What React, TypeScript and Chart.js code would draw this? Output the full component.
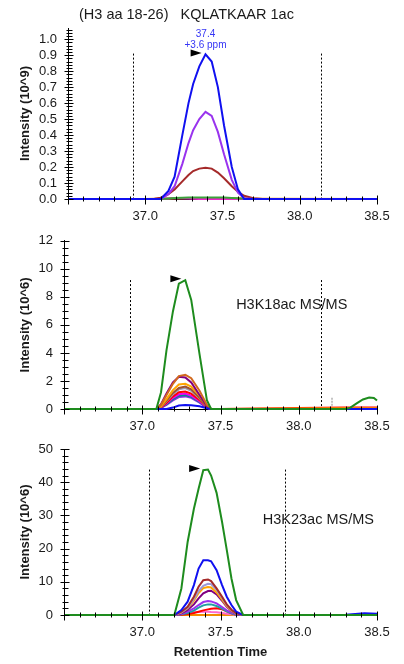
import React, { useEffect, useRef } from 'react';
import { Chart, registerables } from 'chart.js';
Chart.register(...registerables);

const FONT = '"Liberation Sans", Arial, sans-serif';

// ---------- shared x axis ----------
const xTickValues = [37.0, 37.5, 38.0, 38.5];

// ---------- panel 1 : KQLATKAAR 1ac (10^9) ----------
const p1Times   = [36.5, 37.0, 37.06, 37.10, 37.15, 37.19, 37.24, 37.28, 37.31, 37.35, 37.39, 37.43, 37.47, 37.51, 37.56, 37.60, 37.64, 37.70, 37.76, 38.5];
const p1Blue    = [0, 0, 0, 0, 0.05, 0.14, 0.40, 0.60, 0.72, 0.83, 0.905, 0.86, 0.70, 0.46, 0.20, 0.06, 0, 0, 0, 0];
const p1Purple  = [0, 0, 0, 0, 0.03, 0.08, 0.22, 0.35, 0.43, 0.50, 0.545, 0.52, 0.42, 0.28, 0.12, 0.04, 0.005, 0, 0, 0];
const p1Brown   = [0, 0, 0.002, 0.008, 0.03, 0.06, 0.11, 0.15, 0.175, 0.19, 0.196, 0.19, 0.165, 0.13, 0.08, 0.045, 0.02, 0.005, 0, 0];
const p1Green   = [0, 0, 0, 0, 0.003, 0.006, 0.008, 0.01, 0.01, 0.01, 0.01, 0.01, 0.01, 0.009, 0.007, 0.004, 0.002, 0, 0, 0];
const p1Orange  = [0, 0, 0.001, 0.002, 0.003, 0.004, 0.005, 0.006, 0.006, 0.006, 0.006, 0.006, 0.006, 0.005, 0.005, 0.004, 0.003, 0.002, 0.001, 0];
const p1Magenta = [0, 0, 0, 0, 0.003, 0.006, 0.005, 0.003, 0.001, 0, 0, 0, 0, 0, 0, 0, 0, 0, 0, 0];
const p1YTicks  = [0, 0.1, 0.2, 0.3, 0.4, 0.5, 0.6, 0.7, 0.8, 0.9, 1.0];

// ---------- panel 2 : H3K18ac (10^6) ----------
const p2Times      = [36.5, 37.05, 37.09, 37.12, 37.155, 37.196, 37.234, 37.275, 37.313, 37.366, 37.413, 37.44, 37.50, 38.0, 38.30, 38.33, 38.37, 38.41, 38.45, 38.48, 38.5];
const p2Green      = [0, 0, 0, 1.2, 4.2, 6.96, 8.95, 9.19, 7.78, 3.92, 0.63, 0, 0, 0, 0, 0.1, 0.4, 0.68, 0.82, 0.78, 0.6];
const p2Chocolate  = [0, 0, 0, 0.3, 1.0, 1.8, 2.35, 2.44, 2.2, 1.3, 0.3, 0, 0, 0, 0, 0, 0, 0, 0, 0, 0];
const p2Purple     = [0, 0, 0, 0.35, 1.1, 1.9, 2.3, 2.25, 1.9, 1.0, 0.2, 0, 0, 0, 0, 0, 0, 0, 0, 0, 0];
const p2Orange     = [0, 0, 0, 0.2, 0.7, 1.35, 1.75, 1.8, 1.6, 0.95, 0.2, 0, 0, 0.03, 0.05, 0.05, 0.05, 0.05, 0.05, 0.05, 0.05];
const p2Sienna     = [0, 0, 0, 0.18, 0.6, 1.15, 1.5, 1.6, 1.4, 0.8, 0.15, 0, 0, 0, 0, 0, 0, 0, 0, 0, 0];
const p2Grey       = [0, 0, 0, 0.16, 0.55, 1.05, 1.4, 1.5, 1.3, 0.75, 0.15, 0, 0, 0, 0, 0, 0, 0, 0, 0, 0];
const p2Red        = [0, 0, 0, 0.12, 0.45, 0.9, 1.2, 1.25, 1.1, 0.65, 0.12, 0, 0, 0.08, 0.1, 0.1, 0.1, 0.1, 0.1, 0.1, 0.1];
const p2Magenta    = [0, 0, 0, 0.1, 0.4, 0.8, 1.05, 1.1, 0.95, 0.55, 0.1, 0, 0, 0, 0, 0, 0, 0, 0, 0, 0];
const p2Teal       = [0, 0, 0, 0.09, 0.35, 0.7, 0.95, 1.0, 0.88, 0.5, 0.1, 0, 0, 0, 0, 0, 0, 0, 0, 0, 0];
const p2Violet     = [0, 0, 0, 0.08, 0.3, 0.62, 0.85, 0.9, 0.8, 0.45, 0.08, 0, 0, 0, 0, 0, 0, 0, 0, 0, 0];
const p2Blue       = [0, 0, 0, 0, 0, 0.1, 0.25, 0.28, 0.27, 0.2, 0.05, 0, 0, 0, 0, 0, 0, 0, 0, 0, 0];
const p2YTicks     = [0, 2, 4, 6, 8, 10, 12];
const p2MsmsTimes  = [38.21];

// ---------- panel 3 : H3K23ac (10^6) ----------
const p3Times    = [36.5, 37.10, 37.205, 37.25, 37.29, 37.33, 37.36, 37.39, 37.42, 37.44, 37.475, 37.51, 37.54, 37.57, 37.60, 37.645, 37.70, 38.30, 38.42, 38.5];
const p3Green    = [0, 0, 0, 8, 22, 32, 38, 43.6, 43.8, 42, 36.8, 28, 19.6, 11, 4.5, 0, 0, 0, 0, 0];
const p3Blue     = [0, 0, 0, 1.5, 4, 9, 14, 16.5, 16.5, 16.2, 13.5, 9, 5.5, 3, 1, 0, 0, 0.1, 0.5, 0.4];
const p3Brown    = [0, 0, 0, 1, 2.5, 5.5, 8.5, 10.5, 10.7, 10.2, 8, 5.5, 3.2, 1.6, 0.5, 0, 0, 0, 0, 0];
const p3Lavender = [0, 0, 0, 0.8, 2.2, 4.8, 7.2, 8.8, 9.4, 9.3, 7.6, 5.2, 3, 1.5, 0.4, 0, 0, 0, 0, 0];
const p3Orange   = [0, 0, 0, 0.7, 2, 4.3, 6.6, 8.1, 8.4, 8.3, 6.8, 4.6, 2.7, 1.3, 0.4, 0, 0, 0, 0, 0];
const p3Purple   = [0, 0, 0, 0.5, 1.5, 3.2, 5, 6.5, 7.2, 7.3, 6.2, 4.3, 2.5, 1.2, 0.3, 0, 0, 0, 0, 0];
const p3Violet   = [0, 0, 0, 0.3, 1, 2, 3, 3.9, 4.2, 4.1, 3.5, 2.4, 1.4, 0.7, 0.2, 0, 0, 0, 0, 0];
const p3Teal     = [0, 0, 0, 0.2, 0.6, 1.3, 2.2, 2.9, 3.2, 3.2, 2.7, 1.9, 1.1, 0.5, 0.1, 0, 0, 0, 0, 0];
const p3Red      = [0, 0, 0, 0.1, 0.3, 0.6, 1.0, 1.4, 1.7, 1.9, 2.0, 1.7, 1.1, 0.5, 0.1, 0, 0, 0, 0, 0];
const p3Pink     = [0, 0, 0.1, 0.4, 0.6, 0.8, 0.9, 1.0, 1.0, 0.9, 0.8, 0.6, 0.4, 0.2, 0.1, 0, 0, 0, 0, 0];
const p3OrangeFlat = [0, 0, 0, 0, 0, 0, 0, 0, 0, 0, 0, 0, 0, 0, 0, 0, 0, 0, 0, 0];
const p3YTicks   = [0, 10, 20, 30, 40, 50];

// ---------- decoration plugin ----------
const decorPlugin = {
  id: 'decor',
  beforeDatasetsDraw(chart: any, _a: any, o: any) {
    const { ctx, scales: { x, y } } = chart;
    ctx.save();
    ctx.strokeStyle = '#000';
    ctx.lineWidth = 1;
    ctx.setLineDash([2, 2]);
    for (const b of o.bounds || []) {
      const px = Math.round(x.getPixelForValue(b)) + 0.5;
      ctx.beginPath();
      ctx.moveTo(px, y.getPixelForValue(o.boundTop));
      ctx.lineTo(px, y.getPixelForValue(0));
      ctx.stroke();
    }
    ctx.strokeStyle = '#c4c4c4';
    ctx.lineWidth = 2;
    ctx.setLineDash([2, 1]);
    for (const m of o.markers || []) {
      const px = Math.round(x.getPixelForValue(m));
      ctx.beginPath();
      ctx.moveTo(px, y.getPixelForValue(o.markerTop));
      ctx.lineTo(px, y.getPixelForValue(0));
      ctx.stroke();
    }
    ctx.restore();
  },
  afterDraw(chart: any, _a: any, o: any) {
    const { ctx, scales: { x, y }, chartArea } = chart;
    ctx.save();
    ctx.strokeStyle = '#000';
    ctx.lineWidth = 1;
    ctx.setLineDash([]);
    // x ticks
    const bottom = Math.round(chartArea.bottom) + 0.5;
    const nx = Math.round((x.max - x.min) / o.xMinor);
    for (let i = 0; i <= nx; i++) {
      const v = x.min + i * o.xMinor;
      const major = Math.abs(v / o.xMajor - Math.round(v / o.xMajor)) < 1e-6;
      const px = Math.round(x.getPixelForValue(v)) + 0.5;
      ctx.beginPath();
      ctx.moveTo(px, bottom - (major ? 4 : 3));
      ctx.lineTo(px, bottom + (major ? 5 : 2));
      ctx.stroke();
    }
    // y ticks
    const left = Math.round(chartArea.left) + 0.5;
    const ny = Math.round(o.yTickMax / o.yMinor);
    for (let i = 0; i <= ny; i++) {
      const v = i * o.yMinor;
      const major = Math.abs(v / o.yMajor - Math.round(v / o.yMajor)) < 1e-6;
      const py = Math.round(y.getPixelForValue(v)) + 0.5;
      ctx.beginPath();
      ctx.moveTo(left - (major ? 4 : 2), py);
      ctx.lineTo(left + (major ? 5 : 4), py);
      ctx.stroke();
    }
    // apex marker triangle
    if (o.apex) {
      const ax = x.getPixelForValue(o.apex.x);
      const ay = y.getPixelForValue(o.apex.y);
      ctx.fillStyle = '#000';
      ctx.beginPath();
      ctx.moveTo(ax, ay);
      ctx.lineTo(ax - 11, ay - 3.5);
      ctx.lineTo(ax - 11, ay + 3.5);
      ctx.closePath();
      ctx.fill();
    }
    // texts
    for (const t of o.texts || []) {
      ctx.font = t.font;
      ctx.fillStyle = t.color;
      ctx.textAlign = t.align || 'left';
      ctx.textBaseline = 'middle';
      const tx = t.pixel ? t.x : x.getPixelForValue(t.x);
      const ty = t.pixel ? t.y : y.getPixelForValue(t.y);
      ctx.fillText(t.text, tx, ty);
    }
    ctx.restore();
  },
};

type Series = { values: number[]; color: string };
type Spec = {
  height: number;
  left: number;
  top: number;
  bottom: number;
  times: number[];
  series: Series[];
  yMax: number;
  yTicks: number[];
  yDecimals: number;
  yTitle: string;
  xTitle?: string;
  decor: any;
};

function makeConfig(spec: Spec): any {
  return {
    type: 'line',
    data: {
      datasets: spec.series.map((s) => ({
        data: spec.times.map((t, i) => ({ x: t, y: s.values[i] })),
        borderColor: s.color,
        borderWidth: 2,
        pointRadius: 0,
        tension: 0,
        fill: false,
        clip: 4,
      })),
    },
    options: {
      animation: false,
      responsive: false,
      devicePixelRatio: 1,
      layout: { padding: { top: spec.top, right: 27, left: 0, bottom: 0 } },
      plugins: { legend: { display: false }, tooltip: { enabled: false }, decor: spec.decor },
      scales: {
        x: {
          type: 'linear',
          min: 36.5,
          max: 38.5,
          afterBuildTicks: (s: any) => {
            s.ticks = xTickValues.map((v) => ({ value: v }));
          },
          afterFit: (s: any) => {
            s.height = spec.height - spec.bottom;
          },
          grid: { display: false, drawTicks: false },
          border: { display: true, color: '#000', width: 1 },
          ticks: {
            padding: 10,
            color: '#1a1a1a',
            font: { size: 13, family: FONT },
            maxRotation: 0,
            autoSkip: false,
            callback: (v: any) => Number(v).toFixed(1),
          },
          title: spec.xTitle
            ? {
                display: true,
                text: spec.xTitle,
                color: '#1a1a1a',
                font: { size: 13, weight: 'bold', family: FONT },
                padding: { top: 0, bottom: 4 },
              }
            : { display: false },
        },
        y: {
          type: 'linear',
          min: 0,
          max: spec.yMax,
          afterBuildTicks: (s: any) => {
            s.ticks = spec.yTicks.map((v) => ({ value: v }));
          },
          afterFit: (s: any) => {
            s.width = spec.left;
          },
          grid: { display: false, drawTicks: false },
          border: { display: true, color: '#000', width: 1 },
          ticks: {
            padding: 11,
            autoSkip: false,
            color: '#1a1a1a',
            font: { size: 13, family: FONT },
            callback: (v: any) => Number(v).toFixed(spec.yDecimals),
          },
          title: {
            display: true,
            text: spec.yTitle,
            color: '#1a1a1a',
            font: { size: 13, weight: 'bold', family: FONT },
            padding: { top: 18, bottom: 0 },
          },
        },
      },
    },
    plugins: [decorPlugin],
  };
}

const spec1: Spec = {
  height: 222,
  left: 68,
  top: 28,
  bottom: 199,
  times: p1Times,
  series: [
    { values: p1Blue, color: '#1010f0' },
    { values: p1Purple, color: '#9933ee' },
    { values: p1Brown, color: '#a52a2a' },
    { values: p1Green, color: '#3aa33a' },
    { values: p1Magenta, color: '#ee22cc' },
    { values: p1Orange, color: '#f08c00' },
  ],
  yMax: 1.07,
  yTicks: p1YTicks,
  yDecimals: 1,
  yTitle: 'Intensity (10^9)',
  decor: {
    bounds: [36.92, 38.14],
    boundTop: 0.91,
    apex: { x: 37.365, y: 0.914 },
    xMinor: 0.1,
    xMajor: 0.5,
    yMinor: 0.02,
    yMajor: 0.1,
    yTickMax: 1.06,
    texts: [
      { text: '(H3 aa 18-26)   KQLATKAAR 1ac', x: 79, y: 15, pixel: true, font: `14.5px ${FONT}`, color: '#1a1a1a' },
      { text: '37.4', x: 37.39, y: 1.03, align: 'center', font: `10px ${FONT}`, color: '#3535f5' },
      { text: '+3.6 ppm', x: 37.39, y: 0.965, align: 'center', font: `10px ${FONT}`, color: '#3535f5' },
    ],
  },
};

const spec2: Spec = {
  height: 208,
  left: 64,
  top: 16,
  bottom: 187,
  times: p2Times,
  series: [
    { values: p2Green, color: '#1e8c1e' },
    { values: p2Blue, color: '#1010f0' },
    { values: p2Chocolate, color: '#d2691e' },
    { values: p2Purple, color: '#800080' },
    { values: p2Orange, color: '#ffa500' },
    { values: p2Sienna, color: '#a0522d' },
    { values: p2Grey, color: '#9a9ab8' },
    { values: p2Red, color: '#ff0000' },
    { values: p2Magenta, color: '#ee00ee' },
    { values: p2Teal, color: '#008b8b' },
    { values: p2Violet, color: '#8a2be2' },
  ],
  yMax: 12,
  yTicks: p2YTicks,
  yDecimals: 0,
  yTitle: 'Intensity (10^6)',
  decor: {
    bounds: [36.92, 38.14],
    boundTop: 9.2,
    markers: p2MsmsTimes,
    markerTop: 0.8,
    apex: { x: 37.25, y: 9.3 },
    xMinor: 0.1,
    xMajor: 0.5,
    yMinor: 0.5,
    yMajor: 2,
    yTickMax: 12,
    texts: [{ text: 'H3K18ac MS/MS', x: 37.6, y: 7.45, font: `14.5px ${FONT}`, color: '#1a1a1a' }],
  },
};

const spec3: Spec = {
  height: 234,
  left: 64,
  top: 19,
  bottom: 185,
  times: p3Times,
  series: [
    { values: p3Green, color: '#1e8c1e' },
    { values: p3Blue, color: '#1010f0' },
    { values: p3Brown, color: '#a52a2a' },
    { values: p3Lavender, color: '#9a9ad8' },
    { values: p3Orange, color: '#ffa500' },
    { values: p3Purple, color: '#800080' },
    { values: p3Violet, color: '#9933ee' },
    { values: p3Teal, color: '#20a0a0' },
    { values: p3Red, color: '#ff0000' },
    { values: p3Pink, color: '#ff66cc' },
    { values: p3OrangeFlat, color: '#f08c00' },
  ],
  yMax: 50,
  yTicks: p3YTicks,
  yDecimals: 0,
  yTitle: 'Intensity (10^6)',
  xTitle: 'Retention Time',
  decor: {
    bounds: [37.04, 37.91],
    boundTop: 43.8,
    apex: { x: 37.37, y: 44.1 },
    xMinor: 0.1,
    xMajor: 0.5,
    yMinor: 2,
    yMajor: 10,
    yTickMax: 50,
    texts: [{ text: 'H3K23ac MS/MS', x: 37.77, y: 28.7, font: `14.5px ${FONT}`, color: '#1a1a1a' }],
  },
};

function Panel({ spec }: { spec: Spec }) {
  const ref = useRef<HTMLCanvasElement | null>(null);
  useEffect(() => {
    if (!ref.current) return;
    const chart = new Chart(ref.current, makeConfig(spec));
    return () => chart.destroy();
  }, [spec]);
  return <canvas ref={ref} width={404} height={spec.height} style={{ display: 'block', width: 404, height: spec.height }} />;
}

export default function App() {
  return (
    <div style={{ position: 'absolute', left: 0, top: 0, width: 404, height: 664, background: '#fff' }}>
      <Panel spec={spec1} />
      <Panel spec={spec2} />
      <Panel spec={spec3} />
    </div>
  );
}
